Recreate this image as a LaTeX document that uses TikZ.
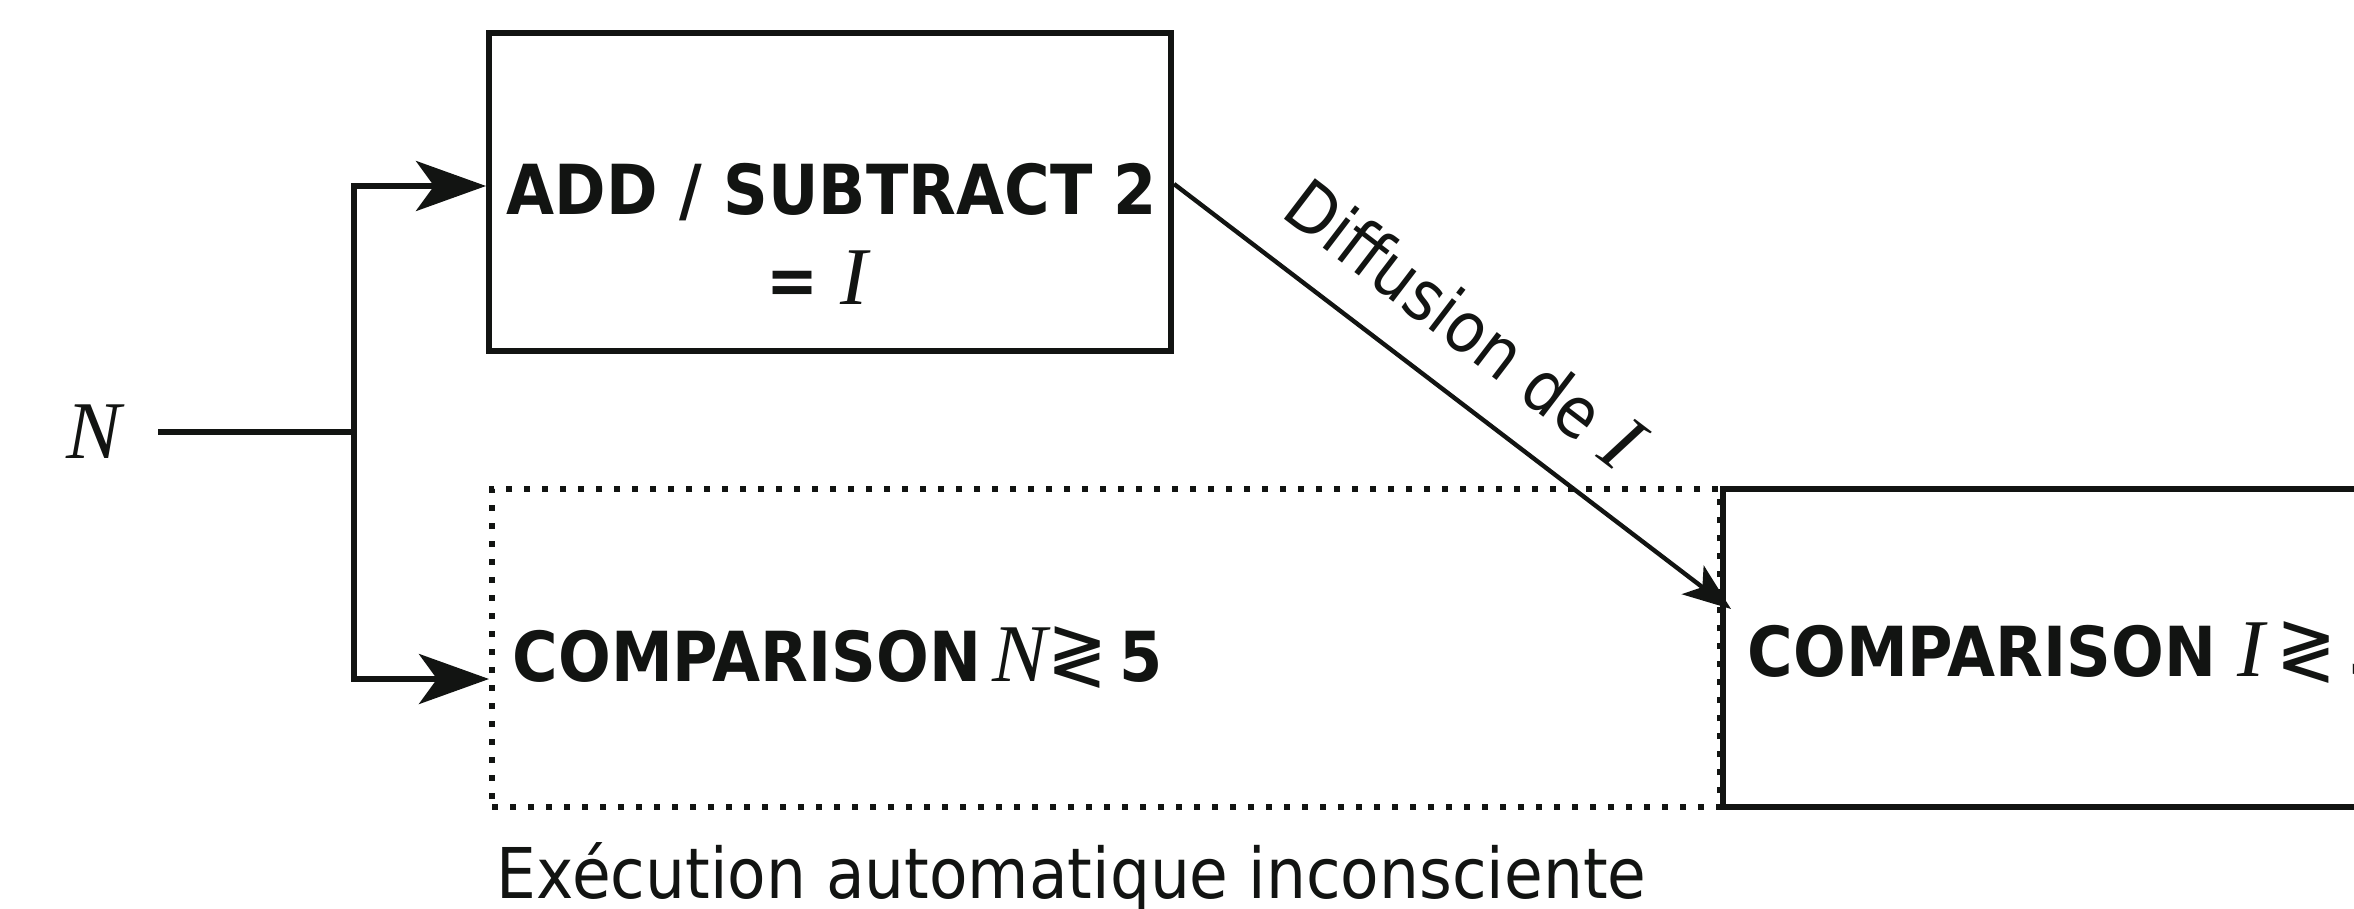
\documentclass[tikz,border=0pt]{standalone}
\usepackage{fontspec}
\setmainfont{DejaVu Sans}[FakeStretch=0.9]
\newfontfamily\varfont{Liberation Serif}
\newcommand\mv[1]{{\varfont\mdseries\itshape\fontsize{41}{42}\selectfont #1}}
\newcommand\gl{{\mdseries\fontsize{40}{42}\selectfont ≷}}
\usetikzlibrary{arrows.meta}
\definecolor{ink}{RGB}{18,20,18}
\begin{document}
\begin{tikzpicture}[x=0.5pt,y=-0.5pt, line width=2.8pt, color=ink,
  txt/.style={font=\fontsize{35}{40}\selectfont, inner sep=0pt, text=ink},
  btxt/.style={font=\fontsize{34.5}{40}\selectfont\bfseries, inner sep=0pt, text=ink},
  boxst/.style={draw=ink, line width=3pt, rectangle, inner sep=0pt},
  dotbox/.style={draw=ink, line width=3pt, dash pattern=on 3pt off 6pt, inner sep=0pt},
  bigarrow/.style={-{Stealth[length=35pt,width=25pt,inset=9pt]}},
  smallarrow/.style={line width=2.2pt, -{Stealth[length=24pt,width=18pt,inset=6pt]}}]
\useasboundingbox (0,0) rectangle (2354,909);
\clip (0,0) rectangle (2354,909);

% boxes
\node[boxst, minimum width=341pt, minimum height=159pt] (add) at (830,192) {};
\node[dotbox, minimum width=614pt, minimum height=159pt] (cmpN) at (1106,648) {};
\node[boxst, minimum width=400pt, minimum height=159pt, anchor=west] (cmpI) at (1720,648) {};

% texts
\node[btxt] (addt) at (832,192) {ADD / SUBTRACT 2};
\node[btxt] (eqI) at (817,278) {= \mv{I}};
\node[btxt, anchor=west] (cmpNt) at (510,658) {COMPARISON\,\mv{N}\gl\,5};
\node[btxt, anchor=west] (cmpIt) at (1745,653) {COMPARISON \mv{I}\,\gl\,5};
\node[txt, anchor=base west] (exec) at (494,898) {Exécution automatique inconsciente};

% input
\node[inner xsep=17pt, inner ysep=0pt, anchor=east] (N) at (158,432) {\mv{N}};
\coordinate (split) at (354,432);
\coordinate (tipI) at (1731,609);

% connectors
\draw (N.east) -- (split);
\draw[bigarrow] (split) |- ([yshift=3pt]add.west);
\draw[bigarrow] (split) |- ([yshift=-15.5pt]cmpN.west);
\draw[smallarrow] ([yshift=4pt]add.east) -- node[txt, sloped, above=18pt, pos=0.45] {Diffusion de \mv{I}} (tipI);
\end{tikzpicture}
\end{document}
